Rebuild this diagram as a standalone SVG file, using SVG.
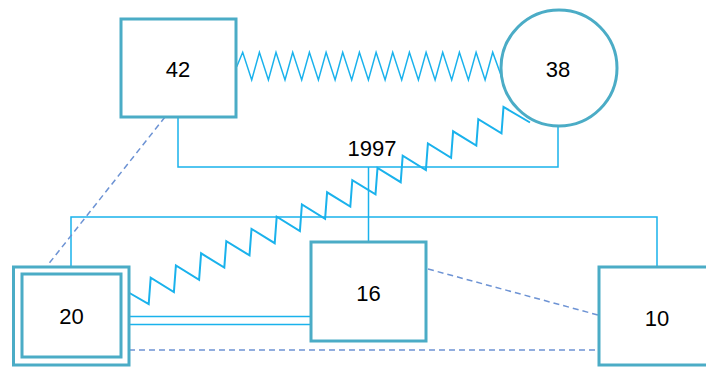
<svg xmlns="http://www.w3.org/2000/svg" width="706" height="367" viewBox="0 0 706 367">
  <style>
    .node { fill: #ffffff; stroke: #4bacc6; stroke-width: 3; }
    .line { fill: none; stroke: #1ab2ec; stroke-width: 1.5; }
    .zig { fill: none; stroke: #1ab2ec; stroke-width: 2; stroke-linejoin: miter; }
    .zig-thin { fill: none; stroke: #1ab2ec; stroke-width: 1.5; }
    .dash { fill: none; stroke: #6d93d4; stroke-width: 1.5; stroke-dasharray: 6 4; }
    .label { font-family: "Liberation Sans", Arial, sans-serif; font-size: 22px; fill: #000000; text-anchor: middle; }
  </style>

  <g id="connectors">
    <!-- couple line 42 / 38 with year -->
    <polyline class="line" points="178,117 178,167 558,167 558,127"/>
    <text class="label" x="372" y="156">1997</text>
    <!-- descent to the sibling line -->
    <line class="line" x1="368.5" y1="167" x2="368.5" y2="242"/>
    <polyline class="line" points="71,266 71,217 657,217 657,267"/>

    <!-- conflict between 42 and 38 -->
    <path class="zig-thin" d="M236.7,66.7 L242.7,52.3 L251.7,80 L259.4,52.3 L268.4,80 L276,52.3 L285,80 L292.7,52.3 L301.7,80 L309.4,52.3 L318.4,80 L326.1,52.3 L335.1,80 L342.7,52.3 L351.7,80 L359.4,52.3 L368.4,80 L376.1,52.3 L385.1,80 L392.7,52.3 L401.7,80 L409.4,52.3 L418.4,80 L426.1,52.3 L435.1,80 L442.7,52.3 L451.7,80 L459.4,52.3 L468.4,80 L476.1,52.3 L485.1,80 L492.7,52.3 L502,78"/>

    <!-- conflict between 20 and 38 -->
    <path class="zig" d="M129.5,293 L148.7,304.2 L150.7,277.7 L173.9,292 L175.9,265.5 L199.1,279.8 L201.1,253.3 L224.3,267.6 L226.3,241.1 L249.5,255.4 L251.5,228.9 L274.7,243.2 L276.7,216.7 L299.9,231 L301.9,204.5 L325.1,218.8 L327.1,192.3 L350.3,206.6 L352.3,180.1 L375.5,194.4 L377.5,167.9 L400.7,182.2 L402.7,155.7 L425.9,170 L427.9,143.5 L451.1,157.8 L453.1,131.3 L476.3,145.6 L478.3,119.1 L501.5,133.4 L503.5,106.9 L530,122.5"/>

    <!-- close bond between 20 and 16 -->
    <line class="line" x1="129" y1="316.5" x2="311" y2="316.5"/>
    <line class="line" x1="129" y1="324.5" x2="311" y2="324.5"/>

    <!-- distant relationships -->
    <line class="dash" x1="165" y1="117" x2="47" y2="266"/>
    <line class="dash" x1="428" y1="269" x2="598" y2="315"/>
    <line class="dash" x1="129" y1="350" x2="599" y2="350"/>
  </g>

  <g id="node-42">
    <rect class="node" x="121" y="19" width="115" height="98"/>
    <text class="label" x="178" y="77">42</text>
  </g>

  <g id="node-38">
    <circle class="node" cx="559" cy="68" r="58"/>
    <text class="label" x="558" y="77">38</text>
  </g>

  <g id="node-20">
    <rect class="node" x="13.5" y="267" width="115.5" height="98"/>
    <rect class="node" x="22" y="274" width="99" height="83"/>
    <text class="label" x="71.5" y="324">20</text>
  </g>

  <g id="node-16">
    <rect class="node" x="311" y="242" width="115" height="99"/>
    <text class="label" x="368.5" y="301">16</text>
  </g>

  <g id="node-10">
    <rect class="node" x="599" y="267" width="116" height="98"/>
    <text class="label" x="657" y="326">10</text>
  </g>
</svg>
